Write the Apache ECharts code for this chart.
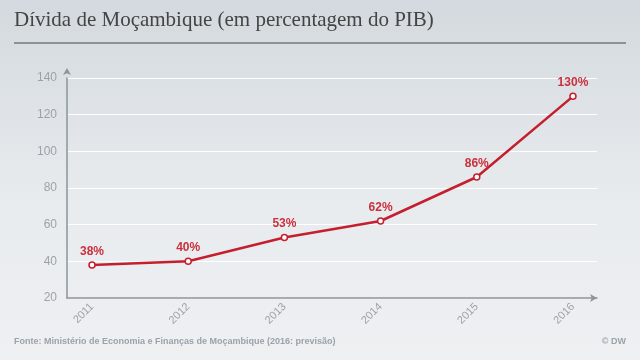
<!DOCTYPE html>
<html><head><meta charset="utf-8">
<script src="https://cdn.jsdelivr.net/npm/echarts@6/dist/echarts.min.js"></script>
<style>html,body{margin:0;padding:0;}#c{width:640px;height:360px;}</style>
</head><body><div id="c"></div>
<script>
var years = [2011, 2012, 2013, 2014, 2015, 2016];
var debt = [38, 40, 53, 62, 86, 130];
var yTicks = [20, 40, 60, 80, 100, 120, 140];
var titleText = 'Dívida de Moçambique (em percentagem do PIB)';
var sourceText = 'Fonte: Ministério de Economia e Finanças de Moçambique (2016: previsão)';
var creditText = '© DW';

var chart = echarts.init(document.getElementById('c'), null, {renderer: 'canvas'});
chart.setOption({
  animation: false,
  backgroundColor: new echarts.graphic.LinearGradient(0, 0, 0, 1, [
    {offset: 0, color: '#d3d9de'},
    {offset: 0.55, color: '#e8ebee'},
    {offset: 1, color: '#eef0f2'}
  ]),
  grid: {left: 67, right: 43, top: 78, bottom: 62},
  graphic: [
    {type: 'text', left: 14, top: 10, style: {text: titleText, font: '21px "Liberation Serif", "DejaVu Serif", serif', fill: '#444444'}},
    {type: 'rect', shape: {x: 14, y: 42, width: 612, height: 2}, style: {fill: '#8d9296'}},
    {type: 'text', left: 14, top: 337, style: {text: sourceText, font: 'bold 9px "Liberation Sans", Arial, sans-serif', fill: '#9aa3ab'}},
    {type: 'text', right: 14, top: 337, style: {text: creditText, font: 'bold 9px "Liberation Sans", Arial, sans-serif', fill: '#9aa3ab'}}
  ],
  xAxis: {
    type: 'value', min: 2010.74, max: 2016.25,
    axisLine: {show: true, onZero: false, lineStyle: {color: '#8a949d', width: 1.5}, symbol: ['none', 'arrow'], symbolSize: [6, 7]},
    axisTick: {show: false},
    splitLine: {show: false},
    axisLabel: {customValues: years, rotate: 45, color: '#9aa3ab', fontSize: 11, fontFamily: '"Liberation Sans", Arial, sans-serif', margin: 7, formatter: function(v){return String(v);}}
  },
  yAxis: {
    type: 'value', min: 20, max: 140, interval: 20,
    axisLine: {show: true, lineStyle: {color: '#8a949d', width: 1.5}, symbol: ['none', 'arrow'], symbolSize: [6, 7], symbolOffset: [0, 10]},
    axisTick: {show: false},
    splitLine: {show: true, lineStyle: {color: '#ffffff', width: 1}},
    axisLabel: {color: '#9aa3ab', fontSize: 12, fontFamily: '"Liberation Sans", Arial, sans-serif', margin: 10,
      formatter: function(v){return yTicks.indexOf(v) >= 0 ? String(v) : '';}}
  },
  series: [{
    type: 'line',
    data: years.map(function(y, i){return [y, debt[i]];}),
    symbol: 'circle', symbolSize: 6,
    lineStyle: {color: '#c51f2e', width: 2.5},
    itemStyle: {color: '#ffffff', borderColor: '#c51f2e', borderWidth: 1.5},
    label: {show: true, position: 'top', distance: 4, color: '#c9303c', fontWeight: 'bold', fontSize: 12,
      fontFamily: '"Liberation Sans", Arial, sans-serif', formatter: function(p){return p.value[1] + '%';}}
  }]
});
</script></body></html>
